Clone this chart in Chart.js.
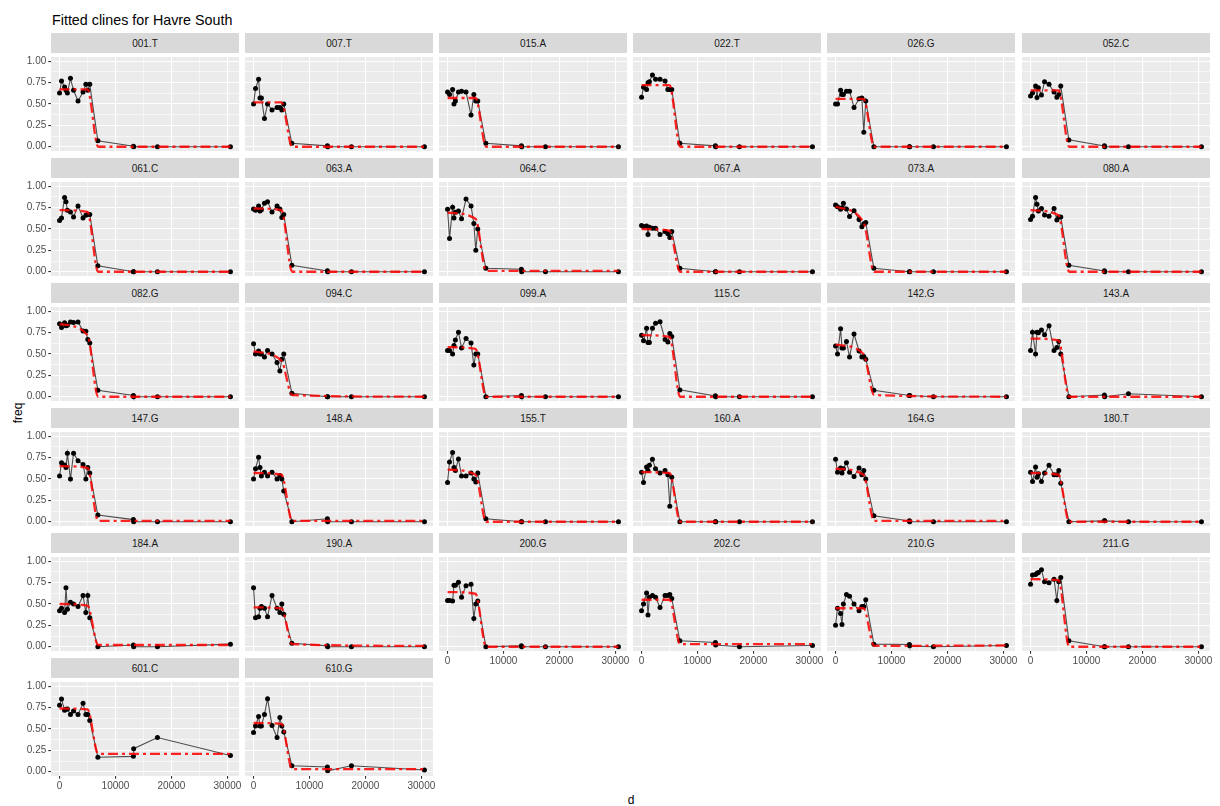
<!DOCTYPE html>
<html>
<head>
<meta charset="utf-8">
<script src="https://cdn.jsdelivr.net/npm/chart.js@4.4.1/dist/chart.umd.min.js"></script>
<style>
  body { margin: 0; background: #fff; width: 1220px; height: 806px; position: relative; overflow: hidden;
         font-family: 'Liberation Sans', Arial, sans-serif; }
  canvas { position: absolute; }
  .strip { position: absolute; background: #d9d9d9; color: #1a1a1a; font-size: 10px;
           display: flex; align-items: center; justify-content: center; }
  .lbl { position: absolute; color: #000; white-space: nowrap; }
</style>
</head>
<body>
<div class="lbl" style="left:52px; top:12.5px; font-size:14.3px; line-height:1;">Fitted clines for Havre South</div>
<div class="lbl" style="left:18px; top:413px; font-size:12px; transform:translate(-50%,-50%) rotate(-90deg);">freq</div>
<div class="lbl" style="left:631px; top:800px; font-size:12px; transform:translate(-50%,-50%);">d</div>
<script>
//Panel names (facets), in reading order
const panels = [
    '001.T', '007.T', '015.A', '022.T', '026.G', '052.C',
    '061.C', '063.A', '064.C', '067.A', '073.A', '080.A',
    '082.G', '094.C', '099.A', '115.C', '142.G', '143.A',
    '147.G', '148.A', '155.T', '160.A', '164.G', '180.T',
    '184.A', '190.A', '200.G', '202.C', '210.G', '211.G',
    '601.C', '610.G'
];

//Sampling distances (d) shared by every panel
const dist = [0, 350, 900, 1150, 1400, 1950, 2500, 3300, 4200, 4700, 5050, 5400, 6850, 13200, 13250, 17500, 30550];

//Observed frequencies, one row per panel
const freq = [
    [0.63, 0.77, 0.70, 0.66, 0.63, 0.80, 0.66, 0.535, 0.64, 0.73, 0.66, 0.73, 0.07, 0.005, 0.0, 0.0, 0.0],
    [0.50, 0.68, 0.79, 0.57, 0.57, 0.33, 0.50, 0.43, 0.46, 0.46, 0.43, 0.50, 0.04, 0.01, 0.0, 0.0, 0.0],
    [0.64, 0.61, 0.67, 0.50, 0.535, 0.64, 0.65, 0.64, 0.37, 0.61, 0.535, 0.535, 0.04, 0.01, 0.0, 0.0, 0.0],
    [0.58, 0.695, 0.67, 0.75, 0.76, 0.84, 0.79, 0.79, 0.77, 0.67, 0.67, 0.67, 0.04, 0.01, 0.0, 0.0, 0.0],
    [0.50, 0.50, 0.66, 0.61, 0.61, 0.65, 0.65, 0.46, 0.56, 0.57, 0.17, 0.535, 0.0, 0.0, 0.0, 0.0, 0.0],
    [0.595, 0.63, 0.71, 0.576, 0.69, 0.605, 0.76, 0.73, 0.64, 0.58, 0.61, 0.71, 0.08, 0.01, 0.0, 0.0, 0.0],
    [0.60, 0.63, 0.87, 0.82, 0.72, 0.70, 0.64, 0.77, 0.63, 0.66, 0.67, 0.67, 0.07, 0.0, 0.0, 0.0, 0.0],
    [0.735, 0.72, 0.77, 0.71, 0.725, 0.80, 0.82, 0.70, 0.77, 0.735, 0.635, 0.67, 0.075, 0.01, 0.0, 0.0, 0.0],
    [0.73, 0.39, 0.755, 0.63, 0.695, 0.71, 0.62, 0.85, 0.77, 0.565, 0.25, 0.50, 0.04, 0.03, 0.0, 0.0, 0.0],
    [0.54, 0.53, 0.535, 0.435, 0.52, 0.51, 0.51, 0.435, 0.47, 0.445, 0.40, 0.47, 0.04, 0.0, 0.0, 0.0, 0.0],
    [0.78, 0.76, 0.73, 0.75, 0.80, 0.735, 0.645, 0.715, 0.61, 0.525, 0.56, 0.576, 0.04, 0.0, 0.0, 0.0, 0.0],
    [0.61, 0.65, 0.87, 0.79, 0.71, 0.74, 0.665, 0.65, 0.74, 0.605, 0.64, 0.64, 0.075, 0.01, 0.0, 0.0, 0.0],
    [0.855, 0.81, 0.865, 0.83, 0.835, 0.875, 0.87, 0.875, 0.77, 0.765, 0.67, 0.63, 0.075, 0.015, 0.0, 0.0, 0.0],
    [0.62, 0.50, 0.535, 0.50, 0.50, 0.465, 0.54, 0.50, 0.40, 0.30, 0.44, 0.50, 0.04, 0.0, 0.0, 0.0, 0.0],
    [0.54, 0.54, 0.50, 0.60, 0.665, 0.755, 0.57, 0.68, 0.63, 0.37, 0.50, 0.50, 0.0, 0.015, 0.0, 0.0, 0.0],
    [0.72, 0.655, 0.80, 0.635, 0.635, 0.80, 0.86, 0.877, 0.67, 0.64, 0.74, 0.705, 0.08, 0.01, 0.0, 0.0, 0.0],
    [0.595, 0.50, 0.795, 0.57, 0.57, 0.645, 0.465, 0.735, 0.535, 0.465, 0.47, 0.44, 0.075, 0.015, 0.015, 0.0, 0.0],
    [0.54, 0.755, 0.50, 0.755, 0.75, 0.78, 0.725, 0.83, 0.54, 0.576, 0.645, 0.50, 0.0, 0.02, 0.0, 0.035, 0.0],
    [0.535, 0.69, 0.665, 0.635, 0.80, 0.50, 0.80, 0.715, 0.67, 0.50, 0.635, 0.57, 0.078, 0.025, 0.0, 0.0, 0.0],
    [0.50, 0.62, 0.755, 0.635, 0.535, 0.58, 0.535, 0.58, 0.50, 0.54, 0.50, 0.36, 0.0, 0.035, 0.0, 0.0, 0.0],
    [0.46, 0.70, 0.81, 0.635, 0.60, 0.735, 0.535, 0.535, 0.57, 0.50, 0.465, 0.57, 0.035, 0.0, 0.0, 0.0, 0.0],
    [0.58, 0.46, 0.64, 0.60, 0.66, 0.73, 0.62, 0.57, 0.60, 0.55, 0.18, 0.52, 0.0, 0.0, 0.0, 0.0, 0.0],
    [0.73, 0.58, 0.63, 0.57, 0.62, 0.69, 0.58, 0.53, 0.63, 0.55, 0.60, 0.50, 0.07, 0.01, 0.0, 0.0, 0.0],
    [0.58, 0.47, 0.64, 0.52, 0.56, 0.47, 0.57, 0.66, 0.55, 0.55, 0.60, 0.45, 0.0, 0.01, 0.01, 0.0, 0.0],
    [0.42, 0.45, 0.40, 0.69, 0.44, 0.52, 0.50, 0.47, 0.60, 0.40, 0.60, 0.34, 0.0, 0.02, 0.0, 0.0, 0.03],
    [0.69, 0.34, 0.35, 0.45, 0.47, 0.45, 0.35, 0.60, 0.45, 0.40, 0.50, 0.38, 0.04, 0.01, 0.0, 0.0, 0.0],
    [0.54, 0.54, 0.535, 0.72, 0.72, 0.755, 0.58, 0.715, 0.73, 0.33, 0.50, 0.535, 0.0, 0.01, 0.0, 0.0, 0.0],
    [0.42, 0.50, 0.63, 0.37, 0.58, 0.60, 0.58, 0.46, 0.60, 0.60, 0.61, 0.565, 0.07, 0.05, 0.02, 0.0, 0.015],
    [0.25, 0.45, 0.39, 0.26, 0.50, 0.61, 0.59, 0.50, 0.42, 0.47, 0.47, 0.55, 0.03, 0.026, 0.01, 0.0, 0.015],
    [0.73, 0.84, 0.845, 0.86, 0.87, 0.90, 0.76, 0.75, 0.79, 0.54, 0.76, 0.81, 0.07, 0.0, 0.0, 0.0, 0.0],
    [0.777, 0.85, 0.72, 0.73, 0.735, 0.67, 0.71, 0.67, 0.80, 0.67, 0.67, 0.60, 0.17, 0.18, 0.27, 0.40, 0.19],
    [0.46, 0.535, 0.645, 0.535, 0.535, 0.67, 0.855, 0.54, 0.40, 0.635, 0.535, 0.465, 0.07, 0.055, 0.01, 0.07, 0.02]
];

//Fitted cline: levels read at a few distances, one row per panel
const fitDist = [0, 5000, 6900, 30550];
const fitFreq = [
    [0.67, 0.67, 0.0, 0.0], [0.52, 0.52, 0.0, 0.0], [0.57, 0.57, 0.0, 0.0],
    [0.72, 0.72, 0.0, 0.0], [0.56, 0.56, 0.0, 0.0], [0.66, 0.66, 0.0, 0.0],
    [0.72, 0.70, 0.0, 0.0], [0.74, 0.72, 0.0, 0.0], [0.69, 0.62, 0.01, 0.01],
    [0.50, 0.48, 0.0, 0.0], [0.76, 0.58, 0.0, 0.0], [0.72, 0.66, 0.0, 0.0],
    [0.85, 0.72, 0.0, 0.0], [0.53, 0.42, 0.02, 0.0], [0.58, 0.56, 0.0, 0.0],
    [0.72, 0.70, 0.0, 0.0], [0.61, 0.50, 0.02, 0.0], [0.68, 0.66, 0.0, 0.0],
    [0.65, 0.63, 0.01, 0.01], [0.57, 0.55, 0.01, 0.01], [0.61, 0.55, 0.0, 0.0],
    [0.58, 0.57, 0.0, 0.0], [0.62, 0.55, 0.01, 0.01], [0.57, 0.55, 0.0, 0.0],
    [0.50, 0.48, 0.02, 0.02], [0.46, 0.45, 0.03, 0.01], [0.64, 0.62, 0.0, 0.0],
    [0.55, 0.55, 0.03, 0.03], [0.45, 0.45, 0.01, 0.015], [0.79, 0.78, 0.0, 0.0],
    [0.74, 0.73, 0.21, 0.21], [0.57, 0.56, 0.03, 0.03]
];

//Axis ticks (major ones get labels, minor ones only a thin grid line)
const xMajor = [0, 10000, 20000, 30000];
const xMinor = [5000, 15000, 25000];
const yMajor = [0, 0.25, 0.5, 0.75, 1];
const yMinor = [0.125, 0.375, 0.625, 0.875];

//Grid geometry of the facets
const colLeft = [51, 245, 439, 633, 827, 1022];
const plotTop = 53, rowStep = 125, plotW = 188, plotH = 98;
const axisW = 44, axisH = 24, padR = 16;
const font = { family: "'Liberation Sans', Arial, sans-serif", size: 10 };

//Gray panel background
const panelBg = {
    id: 'panelBg',
    beforeDraw(chart) {
        const a = chart.chartArea, ctx = chart.ctx;
        ctx.save();
        ctx.fillStyle = '#ebebeb';
        ctx.fillRect(a.left, a.top, a.right - a.left, a.bottom - a.top);
        ctx.restore();
    }
};

function makePanel(i) {
    const col = i % 6, row = Math.floor(i / 6);
    const left = colLeft[col], top = plotTop + row * rowStep;
    const showY = col === 0;
    const showX = i + 6 >= panels.length;

    //Strip with panel name
    const strip = document.createElement('div');
    strip.className = 'strip';
    strip.style.left = left + 'px';
    strip.style.top = (top - 20) + 'px';
    strip.style.width = plotW + 'px';
    strip.style.height = '20px';
    strip.textContent = panels[i];
    document.body.appendChild(strip);

    const cv = document.createElement('canvas');
    cv.width = axisW + plotW + padR;
    cv.height = plotH + axisH;
    cv.style.left = (left - axisW) + 'px';
    cv.style.top = top + 'px';
    document.body.appendChild(cv);

    new Chart(cv, {
        type: 'line',
        data: {
            datasets: [{
                data: fitDist.map((d, k) => ({ x: d, y: fitFreq[i][k] })),
                borderColor: 'rgba(255, 0, 0, 0.85)',
                borderWidth: 2.3,
                borderDash: [10, 4, 3, 4],
                pointRadius: 0,
                cubicInterpolationMode: 'monotone',
                fill: false,
                order: 0
            }, {
                data: dist.map((d, k) => ({ x: d, y: freq[i][k] })),
                borderColor: '#4d4d4d',
                borderWidth: 1.1,
                pointRadius: 2.5,
                pointBackgroundColor: '#000',
                pointBorderWidth: 0,
                fill: false,
                order: 1
            }]
        },
        options: {
            responsive: false,
            animation: false,
            events: [],
            layout: { padding: { left: 0, right: padR, top: 0, bottom: 0 } },
            scales: {
                x: {
                    type: 'linear',
                    min: -1530,
                    max: 32080,
                    border: { display: false },
                    afterBuildTicks: s => { s.ticks = xMajor.concat(xMinor).sort((a, b) => a - b).map(v => ({ value: v })); },
                    afterFit: s => { s.height = axisH; s.paddingLeft = 0; s.paddingRight = 0; },
                    grid: {
                        color: '#ffffff',
                        lineWidth: c => c.tick && xMajor.includes(c.tick.value) ? 1.1 : 0.55,
                        tickLength: 2.75,
                        tickWidth: 1.1,
                        tickColor: c => showX && c.tick && xMajor.includes(c.tick.value) ? '#333333' : 'rgba(0,0,0,0)'
                    },
                    ticks: {
                        autoSkip: false,
                        maxRotation: 0,
                        padding: 1.5,
                        color: '#4d4d4d',
                        font: font,
                        callback: v => showX && xMajor.includes(v) ? String(v) : ''
                    }
                },
                y: {
                    min: -0.05,
                    max: 1.05,
                    border: { display: false },
                    afterBuildTicks: s => { s.ticks = yMajor.concat(yMinor).sort((a, b) => a - b).map(v => ({ value: v })); },
                    afterFit: s => { s.width = axisW; s.paddingTop = 0; s.paddingBottom = 0; },
                    grid: {
                        color: '#ffffff',
                        lineWidth: c => c.tick && yMajor.includes(c.tick.value) ? 1.1 : 0.55,
                        tickLength: 2.75,
                        tickWidth: 1.1,
                        tickColor: c => showY && c.tick && yMajor.includes(c.tick.value) ? '#333333' : 'rgba(0,0,0,0)'
                    },
                    ticks: {
                        autoSkip: false,
                        padding: 2,
                        color: '#4d4d4d',
                        font: font,
                        callback: v => showY && yMajor.includes(v) ? v.toFixed(2) : ''
                    }
                }
            },
            plugins: {
                legend: { display: false },
                tooltip: { enabled: false }
            }
        },
        plugins: [panelBg]
    });
}

panels.forEach((p, i) => makePanel(i));
</script>
</body>
</html>
